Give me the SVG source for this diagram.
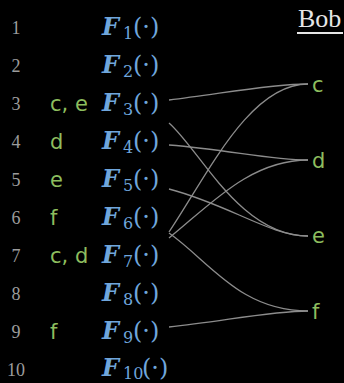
<svg xmlns="http://www.w3.org/2000/svg" width="344" height="383" viewBox="0 0 344 383">
<style>
.num{font-family:"Liberation Serif","DejaVu Serif",serif;font-size:18px;fill:#9c9c9c;text-anchor:middle}
.lbl{font-family:"DejaVu Sans","Open Sans",sans-serif;font-size:21px;fill:#8dbd5e}
.fn{font-family:"DejaVu Serif","Liberation Serif",serif;fill:#6fa6dc}
.F{font-weight:bold;font-style:italic;font-size:24px}
.sub{font-size:16px}
.par{font-size:24px}
.bob{font-family:"Liberation Serif","DejaVu Serif",serif;font-size:26px;fill:#e6e6e6}
.edge{fill:none;stroke:#8c8c8c;stroke-width:1.3}
</style>
<rect width="344" height="383" fill="#000"/>
<g id="bob">
<text class="bob" x="298" y="27">Bob</text>
<line x1="297" y1="33" x2="343" y2="33" stroke="#e6e6e6" stroke-width="2"/>
</g>
<g id="numbers">
<text class="num" x="16" y="34">1</text>
<text class="num" x="16" y="72">2</text>
<text class="num" x="16" y="110">3</text>
<text class="num" x="16" y="148">4</text>
<text class="num" x="16" y="186">5</text>
<text class="num" x="16" y="224">6</text>
<text class="num" x="16" y="262">7</text>
<text class="num" x="16" y="300">8</text>
<text class="num" x="16" y="338">9</text>
<text class="num" x="16" y="376">10</text>
</g>
<g id="left-labels">
<text class="lbl" x="50" y="111">c, e</text>
<text class="lbl" x="50" y="149">d</text>
<text class="lbl" x="50" y="187">e</text>
<text class="lbl" x="50" y="225">f</text>
<text class="lbl" x="50" y="263">c, d</text>
<text class="lbl" x="50" y="339">f</text>
</g>
<g id="F1" class="fn"><text x="102" y="35"><tspan class="F">F</tspan><tspan class="sub" x="123" y="39">1</tspan><tspan class="par" x="133" y="35">(·)</tspan></text></g>
<g id="F2" class="fn"><text x="102" y="73"><tspan class="F">F</tspan><tspan class="sub" x="123" y="77">2</tspan><tspan class="par" x="133" y="73">(·)</tspan></text></g>
<g id="F3" class="fn"><text x="102" y="111"><tspan class="F">F</tspan><tspan class="sub" x="123" y="115">3</tspan><tspan class="par" x="133" y="111">(·)</tspan></text></g>
<g id="F4" class="fn"><text x="102" y="149"><tspan class="F">F</tspan><tspan class="sub" x="123" y="153">4</tspan><tspan class="par" x="133" y="149">(·)</tspan></text></g>
<g id="F5" class="fn"><text x="102" y="187"><tspan class="F">F</tspan><tspan class="sub" x="123" y="191">5</tspan><tspan class="par" x="133" y="187">(·)</tspan></text></g>
<g id="F6" class="fn"><text x="102" y="225"><tspan class="F">F</tspan><tspan class="sub" x="123" y="229">6</tspan><tspan class="par" x="133" y="225">(·)</tspan></text></g>
<g id="F7" class="fn"><text x="102" y="263"><tspan class="F">F</tspan><tspan class="sub" x="123" y="267">7</tspan><tspan class="par" x="133" y="263">(·)</tspan></text></g>
<g id="F8" class="fn"><text x="102" y="301"><tspan class="F">F</tspan><tspan class="sub" x="123" y="305">8</tspan><tspan class="par" x="133" y="301">(·)</tspan></text></g>
<g id="F9" class="fn"><text x="102" y="339"><tspan class="F">F</tspan><tspan class="sub" x="123" y="343">9</tspan><tspan class="par" x="133" y="339">(·)</tspan></text></g>
<g id="F10" class="fn"><text x="102" y="376"><tspan class="F">F</tspan><tspan class="sub" x="123" y="379">10</tspan><tspan class="par" x="142" y="376">(·)</tspan></text></g>
<g id="c"><text class="lbl" x="312" y="92">c</text></g>
<g id="d"><text class="lbl" x="312" y="168">d</text></g>
<g id="e"><text class="lbl" x="312" y="243">e</text></g>
<g id="f"><text class="lbl" x="312" y="319">f</text></g>
<g id="connectors">
<path class="edge" d="M169,100 C220,94 270,84 308,84"/>
<path class="edge" d="M169,123 C200,150 240,236 308,236"/>
<path class="edge" d="M169,145 C230,150 270,160 308,160"/>
<path class="edge" d="M169,189 C230,205 270,236 308,236"/>
<path class="edge" d="M169,233 C210,262 240,311 308,311"/>
<path class="edge" d="M169,232 C209,172 250,84 308,84"/>
<path class="edge" d="M169,238 C210,205 250,160 308,160"/>
<path class="edge" d="M169,327 C220,322 270,311 308,311"/>
</g>
</svg>
